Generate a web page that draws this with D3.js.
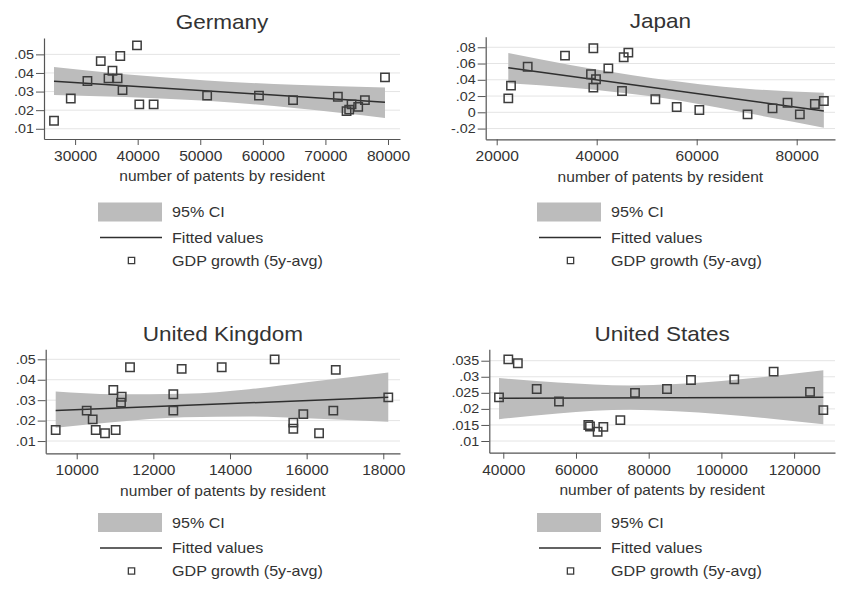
<!DOCTYPE html>
<html>
<head>
<meta charset="utf-8">
<script src="https://cdn.jsdelivr.net/npm/d3@7"></script>
<style>
body { margin: 0; background: #fff; }
svg text { font-family: "Liberation Sans", Arial, sans-serif; fill: #333; }
</style>
</head>
<body>
<svg id="chart" width="842" height="589"></svg>
<script>
// ---- data ----
const countries = ["Germany", "Japan", "United Kingdom", "United States"];
const xTitle = "number of patents by resident";
const legendLabels = ["95% CI", "Fitted values", "GDP growth (5y-avg)"];

// Germany
const deX = [26630, 29310, 31970, 34100, 35970, 35340, 36790, 37220, 37580, 39890, 40260, 42550,
    51100, 59380, 64830, 71990, 73380, 73800, 74180, 75240, 76310, 79520];
const deY = [.0143, .0263, .0357, .0464, .0412, .0371, .0371, .0491, .0308, .0548, .0231, .0231,
    .0278, .0278, .0254, .0272, .0195, .0203, .0231, .0218, .0254, .0376];
const deFitX = [26630, 79520];
const deFitY = [.0356, .0243];
const deBandX = [26630, 38000, 51000, 65000, 79520];
const deBandLo = [.0282, .0271, .0250, .0212, .0158];
const deBandHi = [.0432, .0393, .0360, .0336, .0322];
const deXTicks = [30000, 40000, 50000, 60000, 70000, 80000];
const deYTicks = [.01, .02, .03, .04, .05];

// Japan
const jpX = [22320, 22860, 26200, 33660, 39330, 38860, 39860, 39330, 42330, 45400, 46330, 45060,
    51730, 56000, 60530, 70170, 75170, 78170, 80630, 83630, 85430];
const jpY = [.0172, .0328, .0561, .0697, .0788, .0468, .0406, .0303, .0540, .0677, .0734, .0262,
    .0160, .0065, .0028, -.0025, .0049, .0118, -.0025, .0102, .0139];
const jpFitX = [22320, 85430];
const jpFitY = [.0547, .0016];
const jpBandX = [22320, 35000, 51200, 70000, 85430];
const jpBandLo = [.0358, .0302, .0193, -.0010, -.0190];
const jpBandHi = [.0728, .0578, .0420, .0290, .0240];
const jpXTicks = [20000, 40000, 60000, 80000];
const jpYTicks = [-.02, 0, .02, .04, .06, .08];

// United Kingdom
const ukX = [9452, 10261, 10417, 10496, 10738, 11017, 10955, 11174, 11156, 11391, 12521, 12521,
    12739, 13784, 15165, 15652, 15652, 15913, 16324, 16760, 16696, 18130];
const ukY = [.0154, .0249, .0206, .0154, .0138, .0154, .0350, .0317, .0288, .0461, .0329, .0249,
    .0453, .0461, .0500, .0190, .0160, .0232, .0138, .0448, .0249, .0314];
const ukFitX = [9452, 18130];
const ukFitY = [.0249, .0314];
const ukBandX = [9452, 11000, 12800, 14500, 16000, 18130];
const ukBandLo = [.0165, .0193, .0216, .0220, .0211, .0194];
const ukBandHi = [.0342, .0329, .0332, .0354, .0388, .0436];
const ukXTicks = [10000, 12000, 14000, 16000, 18000];
const ukYTicks = [.01, .02, .03, .04, .05];

// United States
const usX = [38820, 41380, 44000, 49190, 55320, 63390, 63850, 65950, 67520, 72200, 76230, 85030,
    91630, 103540, 114370, 124380, 128040];
const usY = [.0236, .0354, .0342, .0262, .0223, .0150, .0145, .0129, .0144, .0165, .0250, .0262,
    .0290, .0292, .0316, .0253, .0196];
const usFitX = [38820, 128040];
const usFitY = [.0233, .0236];
const usBandX = [38820, 55000, 75000, 100000, 128040];
const usBandLo = [.0168, .0186, .0197, .0183, .0152];
const usBandHi = [.0296, .0282, .0273, .0287, .0320];
const usXTicks = [40000, 60000, 80000, 100000, 120000];
const usYTicks = [.01, .015, .02, .025, .03, .035];

// ---- layout ----
const panels = [
    { name: countries[0], x: deX, y: deY, fitX: deFitX, fitY: deFitY,
      bandX: deBandX, bandLo: deBandLo, bandHi: deBandHi, xTicks: deXTicks, yTicks: deYTicks,
      left: 44, right: 400, top: 38, bottom: 139,
      xDom: [25030, 81920], yDom: [.0045, .0588], legendX: 98, legendY: 212 },
    { name: countries[1], x: jpX, y: jpY, fitX: jpFitX, fitY: jpFitY,
      bandX: jpBandX, bandLo: jpBandLo, bandHi: jpBandHi, xTicks: jpXTicks, yTicks: jpYTicks,
      left: 485.7, right: 835, top: 36.7, bottom: 139.3,
      xDom: [17800, 87660], yDom: [-.0332, .093], legendX: 537, legendY: 212 },
    { name: countries[2], x: ukX, y: ukY, fitX: ukFitX, fitY: ukFitY,
      bandX: ukBandX, bandLo: ukBandLo, bandHi: ukBandHi, xTicks: ukXTicks, yTicks: ukYTicks,
      left: 45.7, right: 400, top: 349.3, bottom: 453.3,
      xDom: [9191, 18436], yDom: [.004, .0549], legendX: 98, legendY: 522.5 },
    { name: countries[3], x: usX, y: usY, fitX: usFitX, fitY: usFitY,
      bandX: usBandX, bandLo: usBandLo, bandHi: usBandHi, xTicks: usXTicks, yTicks: usYTicks,
      left: 489.3, right: 835, top: 349.3, bottom: 452.7,
      xDom: [36150, 131250], yDom: [.00636, .03855], legendX: 537, legendY: 522.5 }
];

const style = {
    band: "#bcbcbc",
    grid: "#e4e4e4",
    axis: "#555",
    line: "#2f2f2f",
    marker: "#3d3d3d"
};

const fmtY = v => v === 0 ? "0" : String(+v.toFixed(3)).replace(/^(-?)0\./, "$1.");

// the source picture is a bit wider than tall, so widen the type the same way
function stretch(sel, sx) {
    sel.each(function () {
        const t = d3.select(this);
        const tx = +t.attr("x") || 0;
        const ty = +t.attr("y") || 0;
        t.attr("x", 0).attr("y", 0)
            .attr("transform", `translate(${tx},${ty}) scale(${sx},1)`);
    });
}

const svg = d3.select("#chart");

panels.forEach(p => {
    const g = svg.append("g");
    const x = d3.scaleLinear().domain(p.xDom).range([p.left, p.right]);
    const y = d3.scaleLinear().domain(p.yDom).range([p.bottom, p.top]);

    // grid
    g.append("g").selectAll("line").data(p.yTicks).join("line")
        .attr("x1", p.left).attr("x2", p.right)
        .attr("y1", d => y(d)).attr("y2", d => y(d))
        .attr("stroke", style.grid).attr("stroke-width", 1);

    // CI band
    const band = p.bandX.map((v, i) => ({ x: v, lo: p.bandLo[i], hi: p.bandHi[i] }));
    const area = d3.area()
        .x(d => x(d.x)).y0(d => y(d.lo)).y1(d => y(d.hi))
        .curve(d3.curveMonotoneX);
    g.append("path").datum(band)
        .attr("d", area).attr("fill", style.band);

    // fitted line
    const fit = p.fitX.map((v, i) => ({ x: v, y: p.fitY[i] }));
    g.append("path").datum(fit)
        .attr("d", d3.line().x(d => x(d.x)).y(d => y(d.y)))
        .attr("fill", "none").attr("stroke", style.line).attr("stroke-width", 1.5);

    // scatter points
    const pts = p.x.map((v, i) => ({ x: v, y: p.y[i] }));
    g.append("g").selectAll("path").data(pts).join("path")
        .attr("transform", d => `translate(${x(d.x)},${y(d.y)})`)
        .attr("d", d3.symbol(d3.symbolSquare, 70)())
        .attr("fill", "none").attr("stroke", style.marker).attr("stroke-width", 1.5);

    // axes
    const xAxis = g.append("g")
        .attr("transform", `translate(0,${p.bottom})`)
        .call(d3.axisBottom(x).tickValues(p.xTicks).tickFormat(d3.format("d"))
            .tickSize(6).tickSizeOuter(0).tickPadding(6));
    const yAxis = g.append("g")
        .attr("transform", `translate(${p.left},0)`)
        .call(d3.axisLeft(y).tickValues(p.yTicks).tickFormat(fmtY)
            .tickSize(8).tickSizeOuter(0).tickPadding(2));
    [xAxis, yAxis].forEach(a => {
        a.select(".domain").attr("stroke", style.axis).attr("stroke-width", 1.2);
        a.selectAll(".tick line").attr("stroke", style.axis);
        a.selectAll(".tick text").attr("fill", "#333")
            .style("font-family", "Liberation Sans, Arial, sans-serif");
    });
    xAxis.selectAll(".tick text").style("font-size", "14px").call(stretch, 1.11);
    yAxis.selectAll(".tick text").style("font-size", "12.8px").call(stretch, 1.12);

    const cx = (p.left + p.right) / 2;
    // axis title
    g.append("text").attr("x", cx).attr("y", p.bottom + 37.5).attr("dy", "0.35em")
        .attr("text-anchor", "middle").style("font-size", "14px").text(xTitle)
        .call(stretch, 1.11);
    // panel title
    g.append("text").attr("x", cx).attr("y", p.top - 16).attr("dy", "0.36em")
        .attr("text-anchor", "middle").style("font-size", "20.5px").attr("fill", "#222")
        .text(p.name).call(stretch, 1.1);

    // legend
    const lg = g.append("g").attr("transform", `translate(${p.legendX},${p.legendY})`);
    const rows = [0, 25.5, 48.5];
    lg.append("rect").attr("x", 0).attr("y", rows[0] - 9.5).attr("width", 64).attr("height", 19)
        .attr("fill", style.band);
    lg.append("line").attr("x1", 2).attr("x2", 64).attr("y1", rows[1]).attr("y2", rows[1])
        .attr("stroke", style.line).attr("stroke-width", 1.5);
    lg.append("path").attr("transform", `translate(33.5,${rows[2]})`)
        .attr("d", d3.symbol(d3.symbolSquare, 40)())
        .attr("fill", "none").attr("stroke", style.marker).attr("stroke-width", 1.3);
    lg.selectAll("text.leg").data(legendLabels).join("text")
        .attr("class", "leg")
        .attr("x", 74).attr("y", (d, i) => rows[i]).attr("dy", "0.36em")
        .style("font-size", "14px").text(d => d)
        .call(stretch, 1.15);
});
</script>
</body>
</html>
